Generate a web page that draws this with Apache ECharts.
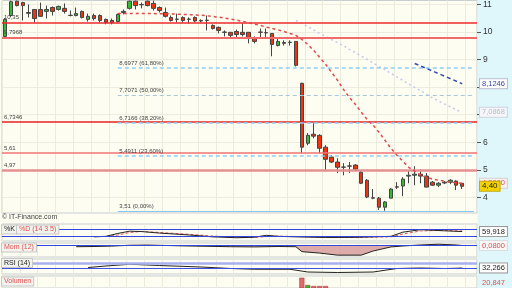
<!DOCTYPE html>
<html><head><meta charset="utf-8">
<script src="https://cdn.jsdelivr.net/npm/echarts@6/dist/echarts.min.js"></script>
<style>html,body{margin:0;padding:0;background:#fdfdf2}#c{width:512px;height:288px}</style>
</head><body><div id="c"></div>
<script>
// ---------- DATA ----------
const categories = Array.from({length: 80}, (_, i) => 'T' + (i + 1));
const opens = [9.84,10.60,11.12,11.07,10.68,10.82,10.82,10.75,10.89,10.82,
10.86,10.61,10.60,10.75,10.46,10.60,10.60,10.46,10.42,10.38,
10.71,10.86,11.12,11.00,11.12,11.04,10.89,10.71,10.53,10.47,
10.53,10.47,10.53,10.42,10.43,10.24,10.17,10.00,9.99,10.02,
9.99,9.99,9.80,10.00,9.98,9.95,9.51,9.62,9.63,9.66,
8.14,5.96,6.29,6.25,5.82,5.46,5.28,5.10,5.14,5.17,
4.91,4.62,3.98,3.97,3.64,3.97,4.38,4.41,4.77,4.80,
4.84,4.77,4.55,4.44,4.55,4.55,4.59,4.51];
const closes = [10.46,11.10,10.96,10.96,10.71,10.49,10.57,10.82,10.75,10.93,
10.75,10.60,10.67,10.53,10.57,10.49,10.42,10.35,10.35,10.64,
10.75,11.12,10.96,10.99,10.96,10.86,10.78,10.57,10.42,10.46,
10.42,10.46,10.40,10.40,10.42,10.13,10.06,9.99,9.88,9.91,
9.91,9.80,9.66,9.99,9.97,9.55,9.66,9.59,9.62,8.79,
5.82,6.25,6.22,5.78,5.38,5.28,5.09,5.09,5.13,5.02,
4.51,4.01,3.97,3.64,3.83,4.30,4.37,4.66,4.80,4.84,
4.77,4.37,4.44,4.51,4.52,4.62,4.44,4.40];
const lows = [9.80,10.55,10.93,10.42,10.53,10.35,10.55,10.49,10.60,10.78,
10.67,10.57,10.57,10.49,10.38,10.42,10.35,10.28,10.28,10.35,
10.64,10.82,10.82,10.86,10.93,10.78,10.71,10.53,10.38,10.35,
10.35,10.31,10.35,10.35,10.06,10.09,9.95,9.84,9.80,9.80,
9.84,9.59,9.59,9.80,9.80,9.12,9.48,9.51,9.51,8.75,
5.60,5.89,6.14,5.60,4.99,5.24,4.88,4.80,4.88,4.99,
4.48,3.97,3.93,3.54,3.51,3.97,4.30,4.04,4.51,4.44,
4.51,4.37,4.41,4.37,4.48,4.48,4.26,4.30];
const highs = [10.50,11.14,11.14,11.10,11.00,10.82,11.07,10.96,10.93,10.96,
11.04,10.78,10.89,10.78,10.67,10.67,10.64,10.49,10.49,10.67,
10.82,11.14,11.14,11.07,11.14,11.14,10.93,10.89,10.60,10.67,
10.57,10.53,10.57,10.46,10.60,10.28,10.20,10.06,9.99,10.09,
10.31,10.00,9.84,10.13,10.13,9.95,9.77,9.70,9.70,9.66,
8.16,6.33,6.69,6.29,5.89,5.53,5.42,5.24,5.28,5.20,
4.99,4.66,4.30,4.01,3.86,4.33,4.55,4.73,4.95,5.13,
5.02,4.88,4.59,4.55,4.59,4.66,4.62,4.51];
const volumes = [6200,9800,5400,4300,3800,5100,4200,3600,3100,2900,
3300,2600,2800,3900,3200,2700,3400,3000,2500,4100,
3700,7200,5600,3300,4400,3900,3100,3500,3000,2700,
2900,2400,2600,2300,3600,4700,3900,3000,2800,3200,
3500,4800,4100,3300,2900,6900,5200,3800,3100,9500,
24500,18200,17300,17300,17300,12000,10500,9000,7800,8400,
11800,14200,9600,11500,10200,12600,8100,9300,7400,8800,
6900,8600,6100,5200,4800,5600,6300,5900];
// moving average (red dashed), starting at bar index maStart
const maStart = 19;
const maValues = [10.67,10.67,10.67,10.67,10.67,10.67,10.67,10.66,10.66,10.66,
10.65,10.64,10.63,10.62,10.61,10.59,10.57,10.54,10.51,10.47,
10.43,10.39,10.34,10.29,10.24,10.18,10.13,10.08,10.02,9.95,
9.88,9.73,9.55,9.33,9.08,8.83,8.54,8.25,7.92,7.63,
7.38,7.09,6.83,6.62,6.36,6.07,5.78,5.53,5.31,5.09,
4.95,4.80,4.73,4.66,4.62,4.59,4.55,4.53,4.51];
// lavender dotted line
const lavStart = 49;
const lavValues = [10.42,10.31,10.20,10.08,9.95,9.84,9.73,9.62,9.50,9.37,
9.26,9.13,9.01,8.88,8.75,8.63,8.50,8.37,8.25,8.12,
7.99,7.87,7.74,7.61,7.50,7.39,7.29,7.18,7.0868];
// short blue trend segment [barIndex, value]
const trendPts = [[69, 8.86], [77, 8.1246]];
// horizontal levels
const redLevels = [10.35, 9.7968, 6.7346, 5.61, 4.97];
const redLabels = ['10,35', '9,7968', '6,7346', '5,61', '4,97'];
const fibStart = 19;
const fibLevels = [8.6977, 7.7071, 6.7166, 5.4911, 3.51];
const fibLabels = ['8,6977 (61,80%)', '7,7071 (50,00%)', '6,7166 (38,20%)', '5,4911 (23,60%)', '3,51 (0,00%)'];
const yTicks = [4, 5, 6, 7, 8, 9, 10, 11];
// indicators [barIndex, value]
const stochK = [[15,18],[17,22],[19,45],[21,63],[23,60],[26,48],[31,33],[35,18],[39,11],[42,15],[44,30],[46,22],[49,18],[54,13],[59,14],[65,22],[67,55],[70,75],[74,66],[77,60]];
const stochD = [[17,20],[19,33],[21,52],[23,61],[26,53],[31,38],[35,24],[39,14],[42,13],[45,24],[49,21],[54,15],[59,14],[65,18],[67,40],[70,65],[74,70],[77,64]];
const stochLevels = [80, 20];
const momPts = [[12,-0.5],[15,-0.4],[18,-0.2],[21,0.2],[24,0.3],[27,0.1],[30,-0.1],[34,-0.3],[38,-0.5],[42,-0.6],[46,-0.4],[49,-0.5],[50,-2.9],[53,-3.6],[56,-4.6],[60,-4.6],[62,-2.6],[65,-0.6],[67,-0.15],[70,0.35],[73,0.7],[76,0.35],[77,0.08]];
const rsiPts = [[14,34],[17,40],[21,47],[26,42],[33,36],[38,30],[42,27],[48,27],[51,16],[56,14],[62,16],[66,30],[70,32],[74,30],[76,31],[77,32]];
const rsiLevels = [50, 30];
const lastPrice = 4.40, lastMA = 4.5080, lastStoch = 59.918, lastMom = 0.08, lastRsi = 32.266;

// ---------- CHART ----------
const FONT = '"Liberation Sans", Arial, sans-serif';
const chart = echarts.init(document.getElementById('c'), null, {renderer: 'canvas'});
const grids = [
  {top: 0, height: 213}, {top: 224, height: 17}, {top: 243, height: 14},
  {top: 259, height: 15}, {top: 276, height: 12}
];
const redStyles = [
  {color: '#ee2a2a', width: 1.5}, {color: '#f26a6a', width: 2}, {color: '#e82020', width: 1.5},
  {color: '#f07474', width: 1.5}, {color: '#e49090', width: 2.5}
];
const fibStyles = [
  {color: '#8fd0f2', width: 1.5, type: [4, 3]}, {color: '#a9c6d8', width: 1.2, type: [4, 3]},
  {color: '#8fd0f2', width: 1.5, type: [4, 3]}, {color: '#8fd0f2', width: 1.5, type: [4, 3]},
  {color: '#86c4ee', width: 1.2, type: 'solid'}
];
const smallLbl = {fontSize: 6, color: '#444', fontFamily: FONT};

const option = {
  animation: false,
  backgroundColor: '#fdfdf2',
  grid: grids.map(g => Object.assign({left: 2, right: 35, show: true, backgroundColor: '#fdfdf2', borderColor: '#c9cfcf', borderWidth: 1}, g)),
  xAxis: grids.map((g, k) => ({
    type: 'category', gridIndex: k, data: categories, boundaryGap: true,
    axisLine: {show: false}, axisTick: {show: false}, axisLabel: {show: false},
    splitLine: {show: true, interval: 2, lineStyle: {color: '#ebebdc', width: 1}}
  })),
  yAxis: [
    {type: 'value', gridIndex: 0, position: 'right', min: 3.43, max: 11.145, splitNumber: 8,
     axisLine: {show: false},
     axisTick: {show: true, length: 4, customValues: yTicks, lineStyle: {color: '#555'}},
     axisLabel: {customValues: yTicks, fontSize: 8.5, color: '#333', margin: 6, fontFamily: FONT},
     splitLine: {show: true, lineStyle: {color: '#ecece0'}}},
    {type: 'value', gridIndex: 1, min: -15, max: 120, show: false},
    {type: 'value', gridIndex: 2, min: -5.5, max: 1.3, show: false},
    {type: 'value', gridIndex: 3, min: 8, max: 68, show: false},
    // volume panel continues below the picture; only the top 12 px are visible
    {type: 'value', gridIndex: 4, min: 15600, max: 26000, show: false}
  ],
  series: [
    {
      type: 'candlestick', xAxisIndex: 0, yAxisIndex: 0, barWidth: 4,
      data: opens.map((o, i) => [o, closes[i], lows[i], highs[i]]),
      itemStyle: {color: '#33bb33', color0: '#ee3311', borderColor: '#444', borderColor0: '#444', borderWidth: 1},
      markLine: {
        silent: true, symbol: ['none', 'none'], animation: false,
        data: redLevels.map((v, k) => ({
          yAxis: v, lineStyle: Object.assign({type: 'solid'}, redStyles[k]),
          label: Object.assign({show: true, position: 'insideStartTop', distance: 2, formatter: redLabels[k]}, smallLbl)
        })).concat(fibLevels.map((v, k) => [
          {xAxis: categories[fibStart], yAxis: v, lineStyle: fibStyles[k],
           label: Object.assign({show: true, position: 'insideStartTop', distance: 1.5, formatter: fibLabels[k]}, smallLbl)},
          {xAxis: categories[79], yAxis: v}
        ]))
      }
    },
    {type: 'line', xAxisIndex: 0, yAxisIndex: 0, symbol: 'none', z: 4,
     data: lavValues.map((v, k) => [lavStart + k, v]),
     lineStyle: {color: '#c4c8ee', width: 1.5, type: [2, 3]}},
    {type: 'line', xAxisIndex: 0, yAxisIndex: 0, symbol: 'none', z: 5,
     data: maValues.map((v, k) => [maStart + k, v]),
     lineStyle: {color: '#e04a4a', width: 1.5, type: [3, 3]}},
    {type: 'line', xAxisIndex: 0, yAxisIndex: 0, symbol: 'none', z: 5,
     data: trendPts, lineStyle: {color: '#3a4db0', width: 1.5, type: [4, 3]}},
    // stochastic
    {type: 'line', xAxisIndex: 1, yAxisIndex: 1, symbol: 'none', data: stochD,
     lineStyle: {color: '#e05858', width: 1, type: [3, 2]}},
    {type: 'line', xAxisIndex: 1, yAxisIndex: 1, symbol: 'none', data: stochK,
     lineStyle: {color: '#222', width: 1},
     markLine: {silent: true, symbol: ['none', 'none'], label: {show: false},
       data: stochLevels.map(v => ({yAxis: v, lineStyle: {color: '#3444e0', width: 1, type: 'solid'}}))}},
    // momentum
    {type: 'line', xAxisIndex: 2, yAxisIndex: 2, symbol: 'none', data: momPts,
     lineStyle: {color: '#222', width: 1},
     areaStyle: {color: '#d9a2a2', origin: 0, opacity: 0.9},
     markLine: {silent: true, symbol: ['none', 'none'], label: {show: false},
       data: [{yAxis: 0, lineStyle: {color: '#3444e0', width: 1, type: 'solid'}}]}},
    // RSI
    {type: 'line', xAxisIndex: 3, yAxisIndex: 3, symbol: 'none', data: rsiPts,
     lineStyle: {color: '#222', width: 1},
     markLine: {silent: true, symbol: ['none', 'none'], label: {show: false},
       data: [{yAxis: rsiLevels[0], lineStyle: {color: '#a8b0f0', width: 2.5, type: 'solid'}},
              {yAxis: rsiLevels[1], lineStyle: {color: '#4050e0', width: 1, type: 'solid'}}]}},
    // volume
    {type: 'bar', xAxisIndex: 4, yAxisIndex: 4, barWidth: 5, data: volumes, clip: true,
     itemStyle: {color: p => closes[p.dataIndex] >= opens[p.dataIndex] ? '#33bb33' : '#e26a6a',
                 borderColor: '#a03030', borderWidth: 0.5}}
  ]
};
chart.setOption(option);

const yOf = (ai, v) => chart.convertToPixel({yAxisIndex: ai}, v);
const box = (txt, x, y, fill, bg, border, fs, z) => ({
  type: 'text', x: x, y: y, z: z || 50,
  style: {text: txt, fill: fill, backgroundColor: bg, borderColor: border, borderWidth: border ? 1 : 0,
          padding: [1, 2, 0, 2], font: fs + 'px ' + FONT, verticalAlign: 'middle'}
});
chart.setOption({
  graphic: [
    {type: 'rect', shape: {x: 477.5, y: 0, width: 35, height: 288}, style: {fill: '#dff7fb'}, z: -100},
    box('8,1246', 480, yOf(0, 8.1246), '#3344aa', '#ffffff', '#b8bcd0', 7.5),
    box('7,0868', 480, yOf(0, 7.0868), '#b8bccc', '#f6f6fa', '#d0d4e0', 7.5),
    box('4,5080', 480, yOf(0, lastMA), '#e05050', '#f7f2f2', '#d8d0d0', 7.5, 50),
    box('4,40', 480, yOf(0, lastPrice), '#222', '#f2d200', '#c8a800', 8, 51),
    box('59,918', 480, yOf(1, lastStoch), '#222', '#ffffff', '#999', 7.5),
    box('0,0800', 480, yOf(2, lastMom), '#e05050', '#f7f7f7', '#dddddd', 7.5),
    box('32,266', 480, yOf(3, lastRsi), '#222', '#ffffff', '#999', 7.5),
    box('20,847', 480, 283, '#e05050', null, null, 7.5),
    {type: 'text', x: 2, y: 217, z: 50, style: {text: '\u00a9 IT-Finance.com', fill: '#444', font: '7px ' + FONT, verticalAlign: 'middle'}},
    box('%K', 2, 229.5, '#222', '#f2f2ee', '#c8c8c8', 7),
    box('%D (14 3 5)', 17, 229.5, '#e05050', '#f2f2ee', '#c8c8c8', 7),
    box('Mom (12)', 2, 247.5, '#e05050', '#f2f2ee', '#c8c8c8', 7),
    box('RSI (14)', 2, 263, '#222', '#f2f2ee', '#c8c8c8', 7),
    box('Volumen', 2, 281.5, '#e05050', '#f2f2ee', '#c8c8c8', 7)
  ]
});
</script></body></html>
